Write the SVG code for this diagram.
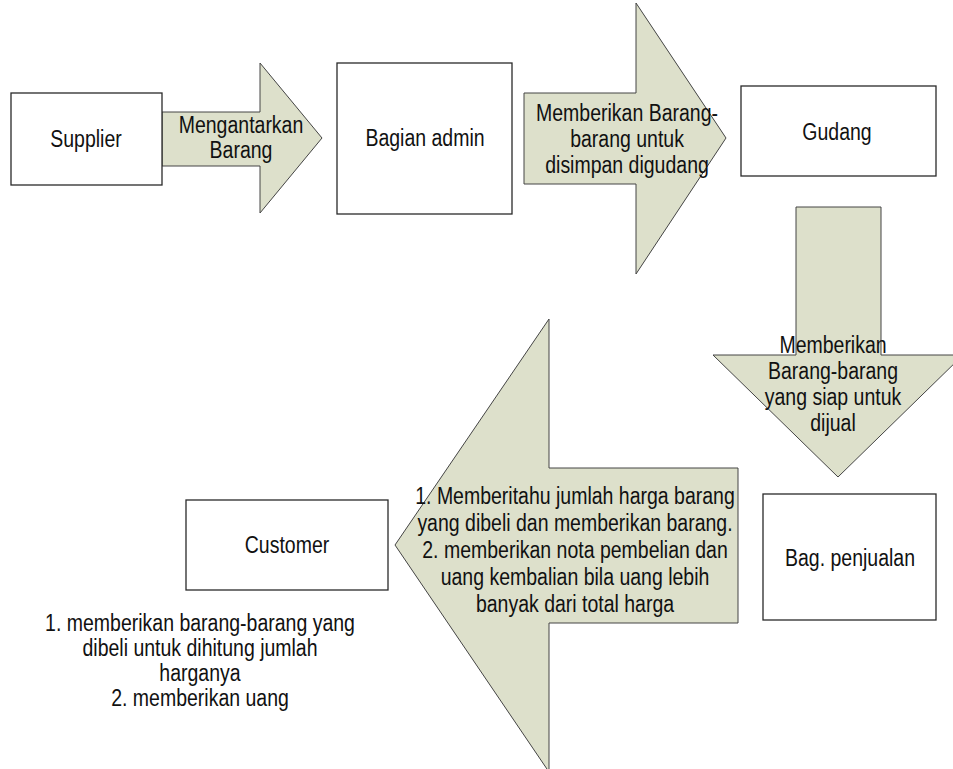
<svg xmlns="http://www.w3.org/2000/svg" width="953" height="769" viewBox="0 0 953 769">
<style>
.box{fill:#ffffff;stroke:#2a2a2a;stroke-width:1.3}
.arrow{fill:#dde0cb;stroke:#444444;stroke-width:1}
text{font-family:"Liberation Sans",Arial,sans-serif;font-size:19.5px;fill:#111111;text-anchor:middle}
</style>
<rect width="953" height="769" fill="#ffffff"/>
<g id="connectors">
<g id="arrow-mengantarkan">
<polygon class="arrow" points="162,112 260,112 260,63 322,138 260,213 260,166 162,166"/>
<text transform="matrix(1,0,0,1.18,241,133)"><tspan x="0" y="0">Mengantarkan</tspan><tspan x="0" dy="21.2">Barang</tspan></text>
</g>
<g id="arrow-memberikan-gudang">
<polygon class="arrow" points="524,93 636,93 636,3 726,138 636,274 636,184 524,184"/>
<text transform="matrix(1,0,0,1.18,627,121)"><tspan x="0" y="0">Memberikan Barang-</tspan><tspan x="0" dy="22">barang untuk</tspan><tspan x="0" dy="22">disimpan digudang</tspan></text>
</g>
<g id="arrow-siap-dijual">
<polygon class="arrow" points="796,207 881,207 881,355 963,355 838,477 713,355 796,355"/>
<text transform="matrix(1,0,0,1.18,833,353)"><tspan x="0" y="0">Memberikan</tspan><tspan x="0" dy="22">Barang-barang</tspan><tspan x="0" dy="22">yang siap untuk</tspan><tspan x="0" dy="22">dijual</tspan></text>
</g>
<g id="arrow-customer">
<polygon class="arrow" points="738,468 549,468 549,319 395,545 549,772 549,623 738,623"/>
<text transform="matrix(1,0,0,1.18,575,504)"><tspan x="0" y="0">1. Memberitahu jumlah harga barang</tspan><tspan x="0" dy="22.9">yang dibeli dan memberikan barang.</tspan><tspan x="0" dy="22.9">2. memberikan nota pembelian dan</tspan><tspan x="0" dy="22.9">uang kembalian bila uang lebih</tspan><tspan x="0" dy="22.9">banyak dari total harga</tspan></text>
</g>
</g>
<g id="supplier">
<rect class="box" x="11" y="93" width="151" height="92"/>
<text transform="matrix(1,0,0,1.18,86,147)">Supplier</text>
</g>
<g id="bagian-admin">
<rect class="box" x="337" y="63" width="175" height="151"/>
<text transform="matrix(1,0,0,1.18,425,146)">Bagian admin</text>
</g>
<g id="gudang">
<rect class="box" x="741" y="86" width="195" height="90"/>
<text transform="matrix(1,0,0,1.18,837,140)">Gudang</text>
</g>
<g id="bag-penjualan">
<rect class="box" x="763" y="494" width="173" height="126"/>
<text transform="matrix(1,0,0,1.18,850,566)">Bag. penjualan</text>
</g>
<g id="customer">
<rect class="box" x="186" y="500" width="202" height="90"/>
<text transform="matrix(1,0,0,1.18,287,553)">Customer</text>
</g>
<g id="customer-note">
<text transform="matrix(1,0,0,1.18,200,631)"><tspan x="0" y="0">1. memberikan barang-barang yang</tspan><tspan x="0" dy="21.2">dibeli untuk dihitung jumlah</tspan><tspan x="0" dy="21.2">harganya</tspan><tspan x="0" dy="21.2">2. memberikan uang</tspan></text>
</g>
</svg>
